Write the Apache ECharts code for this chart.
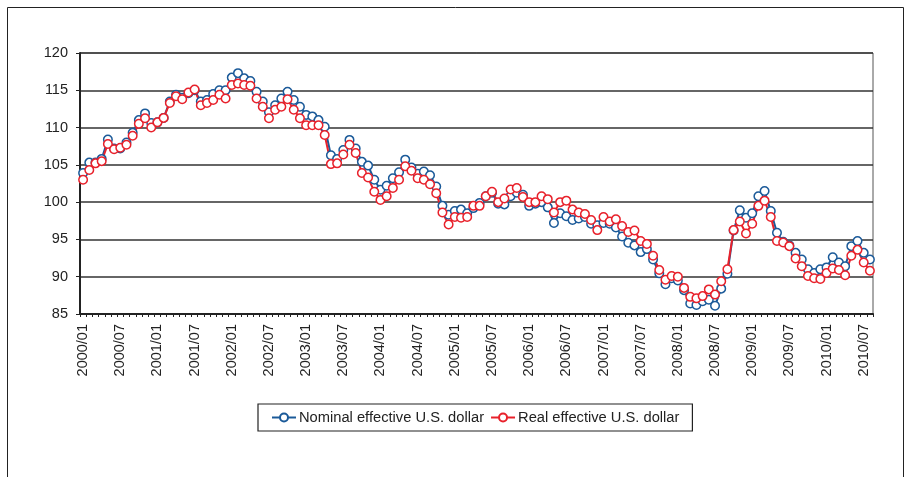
<!DOCTYPE html>
<html>
<head>
<meta charset="utf-8">
<script src="https://cdn.jsdelivr.net/npm/echarts@6/dist/echarts.min.js"></script>
<style>
  html, body { margin: 0; padding: 0; background: #fff; }
  #chart_usd { width: 911px; height: 477px; }
</style>
</head>
<body>
<div id="chart_usd"></div>
<script>
// months 2000/01 .. 2010/08
const months = [];
for (let y = 2000; y <= 2010; y++) {
  for (let m = 1; m <= 12; m++) {
    if (y === 2010 && m > 8) break;
    months.push(y + '/' + (m < 10 ? '0' + m : m));
  }
}

const nominal = [
  103.9, 105.3, 105.3, 105.8, 108.4, 107.2, 107.2, 108.0, 109.3, 111.0, 111.9, 110.6,
  110.7, 111.3, 113.5, 114.4, 114.0, 114.6, 115.0, 113.5, 113.7, 114.5, 115.0, 115.0,
  116.7, 117.3, 116.6, 116.25, 114.8, 113.5, 112.05, 113.0, 113.9, 114.8, 113.7, 112.8,
  111.7, 111.5, 111.0, 110.1, 106.3, 105.8, 107.0, 108.35, 107.2, 105.4, 104.9, 103.0,
  101.65, 102.2, 103.2, 104.0, 105.7, 104.65, 103.8, 104.1, 103.6, 102.1, 99.5, 98.3,
  98.8, 99.0, 98.5, 99.2, 99.9, 100.8, 101.25, 99.8, 99.7, 100.8, 101.25, 101.0,
  99.5, 99.8, 100.0, 99.3, 97.2, 98.5, 98.1, 97.6, 97.8, 98.0, 97.1, 96.9,
  97.2, 97.1, 96.6, 95.4, 94.55, 94.2, 93.3, 93.7, 92.3, 90.45, 89.0, 89.8,
  89.5, 88.2, 86.4, 86.2, 86.7, 86.9, 86.1, 88.4, 90.4, 96.2, 98.9, 97.9,
  98.5, 100.8, 101.5, 98.8, 95.9, 94.7, 94.2, 93.2, 92.3, 91.0, 90.5, 91.0,
  91.25, 92.6, 91.9, 91.4, 94.1, 94.8, 93.2, 92.3
];

const real = [
  103.0, 104.3, 105.2, 105.5, 107.8, 107.1, 107.3, 107.7, 108.9, 110.5, 111.25, 110.0,
  110.7, 111.3, 113.3, 114.2, 113.8, 114.7, 115.1, 113.0, 113.3, 113.7, 114.4, 113.9,
  115.7, 115.9, 115.7, 115.6, 113.9, 112.8, 111.25, 112.4, 112.8, 113.8, 112.4, 111.25,
  110.3, 110.3, 110.3, 109.0, 105.1, 105.2, 106.4, 107.7, 106.6, 103.9, 103.3, 101.4,
  100.3, 100.8, 101.9, 103.0, 104.8, 104.2, 103.2, 103.0, 102.4, 101.2, 98.6, 97.0,
  98.0, 97.9, 98.0, 99.5, 99.5, 100.8, 101.4, 100.0, 100.5, 101.7, 101.9, 100.7,
  100.0, 100.0, 100.8, 100.4, 98.6, 100.0, 100.2, 99.0, 98.6, 98.4, 97.6, 96.25,
  98.0, 97.4, 97.7, 96.8, 96.0, 96.2, 94.8, 94.4, 92.8, 90.9, 89.6, 90.1,
  90.0, 88.5, 87.3, 87.1, 87.4, 88.3, 87.6, 89.4, 91.0, 96.25, 97.4, 95.8,
  97.1, 99.5, 100.2, 98.0, 94.8, 94.6, 94.1, 92.45, 91.4, 90.1, 89.8, 89.7,
  90.5, 91.1, 90.9, 90.2, 92.8, 93.6, 91.9, 90.8
];

const seriesNames = ['Nominal effective U.S. dollar', 'Real effective U.S. dollar'];
const colors = ['#1b5a99', '#e8212b'];

let myChart = echarts.init(document.getElementById('chart_usd'));

let option = {
  animation: false,
  textStyle: { fontFamily: 'Liberation Sans, Arial, sans-serif' },
  color: colors,
  graphic: [{
    type: 'rect',
    shape: { x: 7.5, y: 7.5, width: 896, height: 480 },
    style: { fill: 'none', stroke: '#222', lineWidth: 1 },
    silent: true
  }],
  legend: {
    left: 258,
    top: 404,
    padding: [6, 13, 6, 13],
    itemGap: 6,
    itemWidth: 24,
    itemHeight: 10,
    borderColor: '#222',
    borderWidth: 1.2,
    borderRadius: 0,
    textStyle: { fontSize: 14.7, color: '#222', padding: [0, 0, 0, -2] },
    data: seriesNames
  },
  grid: {
    left: 80,
    right: 38,
    top: 53,
    bottom: 163,
    show: true,
    borderColor: '#555',
    borderWidth: 1
  },
  xAxis: {
    type: 'category',
    boundaryGap: true,
    data: months,
    axisLine: { lineStyle: { color: '#222', width: 2 } },
    axisTick: { show: true, interval: 0, length: 3, lineStyle: { color: '#222' } },
    axisLabel: { interval: 5, rotate: 90, fontSize: 14.5, color: '#222', margin: 10 },
    splitLine: { show: false }
  },
  yAxis: {
    type: 'value',
    min: 85,
    max: 120,
    interval: 5,
    axisLine: { show: true, lineStyle: { color: '#222', width: 2 } },
    axisTick: { show: true, length: 4, lineStyle: { color: '#222' } },
    axisLabel: { fontSize: 14.5, color: '#222', margin: 12 },
    splitLine: { lineStyle: { color: '#333', width: 1.5 } }
  },
  series: []
};

const values = [nominal, real];
for (let i = 0; i < seriesNames.length; i++) {
  option.series.push({
    name: seriesNames[i],
    type: 'line',
    data: values[i],
    symbol: 'circle',
    symbolSize: 8.5,
    showAllSymbol: true,
    lineStyle: { color: colors[i], width: 2 },
    itemStyle: { color: '#fff', borderColor: colors[i], borderWidth: 1.5 }
  });
}

myChart.setOption(option, true);
</script>
</body>
</html>
